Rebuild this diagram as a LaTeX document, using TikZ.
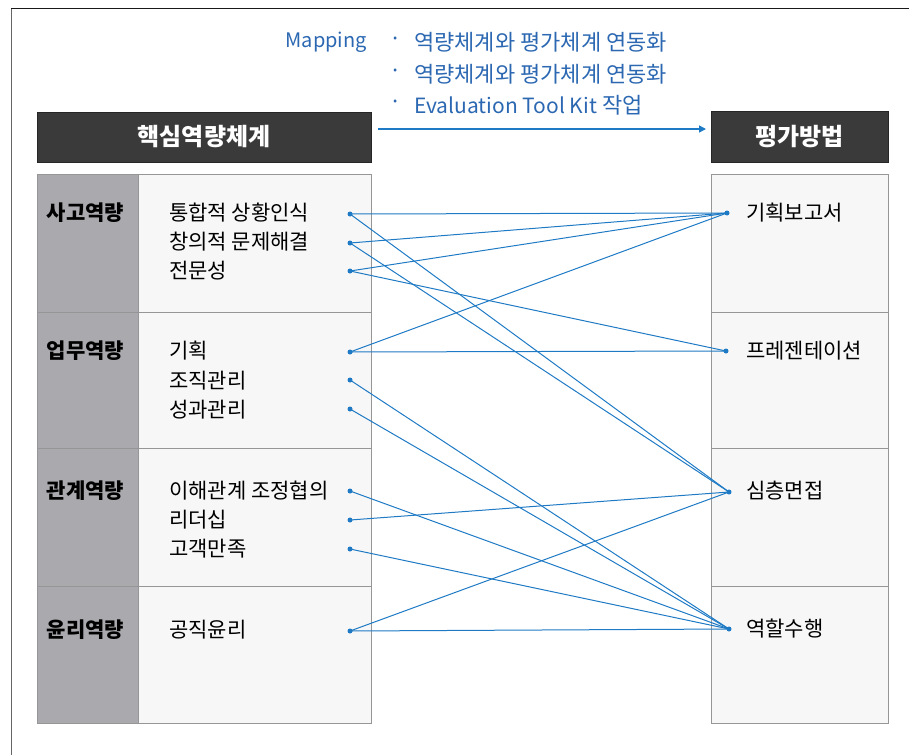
\documentclass[tikz,border=0pt]{standalone}
\usepackage{fontspec}
\setmainfont{Noto Sans CJK KR}
\usetikzlibrary{arrows.meta}
\definecolor{maptext}{RGB}{44,104,178}
\definecolor{linkblue}{RGB}{30,122,196}
\definecolor{headfill}{RGB}{58,58,58}
\definecolor{labelgray}{RGB}{169,169,174}
\definecolor{cellfill}{RGB}{247,247,247}
\definecolor{cellline}{RGB}{150,150,150}
\begin{document}
\begin{tikzpicture}[x=1pt,y=-1pt,
  headbox/.style={draw=black!85,line width=1pt,fill=headfill,text=white,font=\fontsize{24}{28}\selectfont\bfseries,inner sep=0pt},
  cell/.style={draw=cellline,line width=1.1pt,inner sep=0pt,anchor=north west},
  labcell/.style={cell,fill=labelgray},
  itemcell/.style={cell,fill=cellfill},
  rowlab/.style={font=\fontsize{21}{24}\selectfont\bfseries,inner sep=0pt},
  item/.style={font=\fontsize{21}{24}\selectfont,anchor=west,inner sep=0pt},
  maptxt/.style={font=\fontsize{22}{26}\selectfont,text=maptext,inner sep=0pt},
  dotnode/.style={circle,fill=linkblue,inner sep=0pt,minimum size=5pt},
  link/.style={draw=linkblue,line width=1pt}]
\useasboundingbox (0,0) rectangle (909,755);
% frame
\draw[black!60,line width=0.9pt] (11,8) -- (11,755);
\draw[black!90,line width=1pt] (11,8) -- (909,8);
% headers
\node[headbox,minimum width=334pt,minimum height=50pt] (lhead) at (204,137) {핵심역량체계};
\node[headbox,minimum width=177pt,minimum height=51pt] (rhead) at (799.5,136.5) {평가방법};
% mapping text and arrow
\node[maptxt,anchor=east,font=\fontsize{20}{26}\selectfont] (map) at (367,42) {Mapping};
\node[maptxt] (b1) at (396,42) {·};
\node[maptxt] (b2) at (396,74) {·};
\node[maptxt] (b3) at (396,105) {·};
\node[maptxt,anchor=west] (m1) at (414,42) {역량체계와 평가체계 연동화};
\node[maptxt,anchor=west] (m2) at (414,74) {역량체계와 평가체계 연동화};
\node[maptxt,anchor=west] (m3) at (414,105) {{\fontsize{21}{26}\selectfont Evaluation Tool Kit} 작업};
\coordinate (as) at (378,129);
\coordinate (ae) at (706,129);
\draw[draw=linkblue,line width=1.4pt,-{Triangle[length=7pt,width=7pt]}] (as) -- (ae);
% table cells
\node[labcell,minimum width=101pt,minimum height=138pt] (g1) at (37,174) {};
\node[labcell,minimum width=101pt,minimum height=136pt] (g2) at (37,312) {};
\node[labcell,minimum width=101pt,minimum height=138pt] (g3) at (37,448) {};
\node[labcell,minimum width=101pt,minimum height=137pt] (g4) at (37,586) {};
\node[itemcell,minimum width=233pt,minimum height=138pt] (w1) at (138,174) {};
\node[itemcell,minimum width=233pt,minimum height=136pt] (w2) at (138,312) {};
\node[itemcell,minimum width=233pt,minimum height=138pt] (w3) at (138,448) {};
\node[itemcell,minimum width=233pt,minimum height=137pt] (w4) at (138,586) {};
\node[itemcell,minimum width=177pt,minimum height=138pt] (r1) at (711,174) {};
\node[itemcell,minimum width=177pt,minimum height=136pt] (r2) at (711,312) {};
\node[itemcell,minimum width=177pt,minimum height=138pt] (r3) at (711,448) {};
\node[itemcell,minimum width=177pt,minimum height=137pt] (r4) at (711,586) {};
% row labels
\node[rowlab] (l1) at (85.5,213) {사고역량};
\node[rowlab] (l2) at (85.5,351) {업무역량};
\node[rowlab] (l3) at (85.5,491) {관계역량};
\node[rowlab] (l4) at (85.5,630) {윤리역량};
% items
\node[item] (i1) at (169,213) {통합적 상황인식};
\node[item] (i2) at (169,242) {창의적 문제해결};
\node[item] (i3) at (169,271) {전문성};
\node[item] (i4) at (169,351) {기획};
\node[item] (i5) at (169,381) {조직관리};
\node[item] (i6) at (169,410) {성과관리};
\node[item] (i7) at (169,491) {이해관계 조정협의};
\node[item] (i8) at (169,520) {리더십};
\node[item] (i9) at (169,549) {고객만족};
\node[item] (i10) at (169,630) {공직윤리};
\node[item] (e1) at (746,213) {기획보고서};
\node[item] (e2) at (746,351) {프레젠테이션};
\node[item] (e3) at (746,491) {심층면접};
\node[item] (e4) at (746,629) {역할수행};
% dots
\node[dotnode] (d1) at (350,214) {};
\node[dotnode] (d2) at (350,243) {};
\node[dotnode] (d3) at (350,271) {};
\node[dotnode] (d4) at (350,352) {};
\node[dotnode] (d5) at (350,380) {};
\node[dotnode] (d6) at (350,409) {};
\node[dotnode] (d7) at (350,491) {};
\node[dotnode] (d8) at (350,520) {};
\node[dotnode] (d9) at (350,549) {};
\node[dotnode] (d10) at (350,631) {};
\node[dotnode] (t1) at (727,213) {};
\node[dotnode] (t2) at (726,351) {};
\node[dotnode] (t3) at (729,492) {};
\node[dotnode] (t4) at (729,629) {};
% links
\foreach \a/\b in {d1/t1,d2/t1,d3/t1,d4/t1,d3/t2,d4/t2,d1/t3,d2/t3,d8/t3,d10/t3,d5/t4,d6/t4,d7/t4,d9/t4,d10/t4}
  \draw[link] (\a.center) -- (\b.center);
\end{tikzpicture}
\end{document}
